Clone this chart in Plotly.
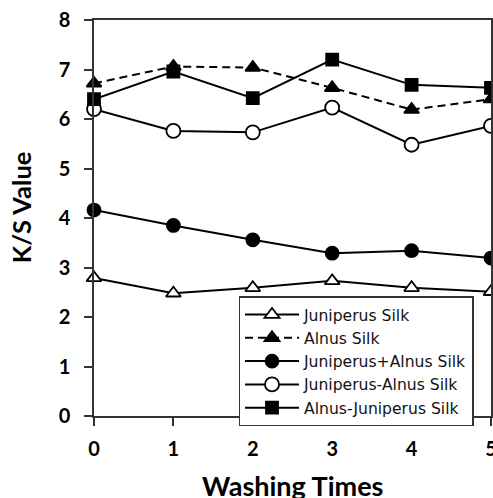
import plotly.graph_objects as go

washing = [0, 1, 2, 3, 4, 5]
juniperus = [2.79, 2.48, 2.59, 2.73, 2.59, 2.51]
alnus = [6.72, 7.06, 7.04, 6.63, 6.19, 6.40]
jun_plus_aln = [4.16, 3.85, 3.56, 3.29, 3.34, 3.19]
jun_minus_aln = [6.20, 5.76, 5.73, 6.23, 5.48, 5.86]
aln_minus_jun = [6.40, 6.96, 6.42, 7.20, 6.69, 6.63]

names = ["Juniperus Silk", "Alnus Silk", "Juniperus+Alnus Silk",
         "Juniperus-Alnus Silk", "Alnus-Juniperus Silk"]
series = [juniperus, alnus, jun_plus_aln, jun_minus_aln, aln_minus_jun]
symbols = ["triangle-up", "triangle-up", "circle", "circle", "square"]
fills = ["white", "black", "black", "white", "black"]
dashes = ["solid", "8px,5px", "solid", "solid", "solid"]
sizes = [13, 13, 13, 14, 12]

fig = go.Figure()
for n, s, sym, fc, d, sz in zip(names, series, symbols, fills, dashes, sizes):
    fig.add_trace(go.Scatter(
        x=washing, y=s, name=n, mode="lines+markers",
        line=dict(color="black", width=2, dash=d),
        marker=dict(symbol=sym, size=sz, color=fc,
                    line=dict(color="black", width=1.8)),
        cliponaxis=False,
    ))

fig.update_layout(
    width=493, height=498,
    margin=dict(l=94, r=2, t=20, b=82),
    plot_bgcolor="white", paper_bgcolor="white",
    font=dict(family="Lato, Open Sans, sans-serif", color="black"),
    showlegend=True,
    legend=dict(x=0.364, y=0.302, xanchor="left", yanchor="top",
                bgcolor="white", bordercolor="#333", borderwidth=1.5,
                font=dict(size=15.6, family="DejaVu Sans, sans-serif", color="#111"),
                itemwidth=54, tracegroupgap=0),
)
common = dict(showline=True, linecolor="#333", linewidth=1.5, mirror=True,
              ticks="outside", ticklen=8, tickwidth=1.5, tickcolor="#333",
              showgrid=False, zeroline=False, automargin=False,
              ticklabeloverflow="allow",
              tickfont=dict(size=20, family="Lato, sans-serif", weight="bold"))
fig.update_xaxes(range=[0, 5], tickvals=washing, ticklabelstandoff=6, **common)
fig.update_yaxes(range=[0, 8], dtick=1, ticklabelstandoff=10, **common)

fig.add_annotation(text="<b>Washing Times</b>", xref="paper", yref="paper",
                   x=0.5, y=-0.13, xanchor="center", yanchor="top",
                   showarrow=False, font=dict(size=27, family="Lato, sans-serif"))
fig.add_annotation(text="<b>K/S Value</b>", xref="paper", yref="paper",
                   x=-0.184, y=0.527, xanchor="center", yanchor="middle", textangle=-90,
                   showarrow=False, font=dict(size=25.5, family="Lato, sans-serif"))

fig.write_html("out.html", config={"displayModeBar": False},
               post_script="document.body.style.margin='0';")
